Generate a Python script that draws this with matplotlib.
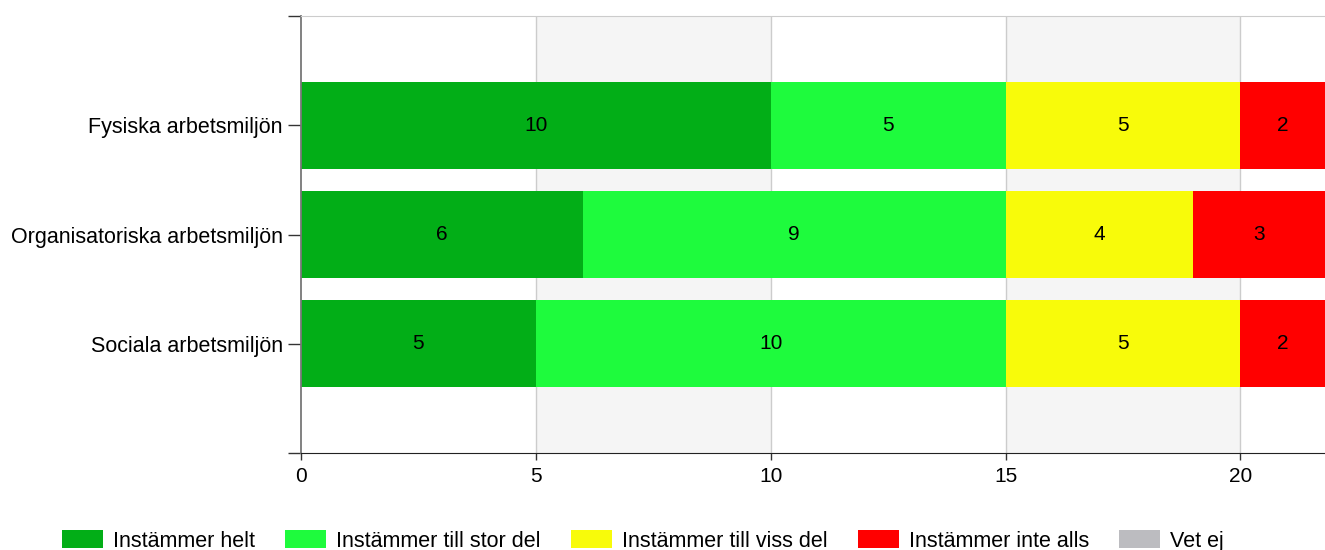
import numpy as np
import matplotlib.pyplot as plt
from matplotlib.patches import Patch

plt.rcParams["font.family"] = ["Liberation Sans", "DejaVu Sans"]

# Survey answers per area
categories = ["Fysiska arbetsmiljön", "Organisatoriska arbetsmiljön", "Sociala arbetsmiljön"]
answers = ["Instämmer helt", "Instämmer till stor del", "Instämmer till viss del",
           "Instämmer inte alls", "Vet ej"]
helt = [10, 6, 5]
stor_del = [5, 9, 10]
viss_del = [5, 4, 5]
inte_alls = [2, 3, 2]
vet_ej = [0, 0, 0]
colors = ["#02ae17", "#1efb3d", "#f8fb0a", "#ff0000", "#bcbcc0"]

series = [helt, stor_del, viss_del, inte_alls, vet_ej]
xmax = 21.8

fig = plt.figure(figsize=(13.25, 5.5), dpi=100)
ax = fig.add_axes([301 / 1325, 97 / 550, 1024 / 1325, 437 / 550])

# alternating background bands and grid
for lo, hi in [(5, 10), (15, 20)]:
    ax.axvspan(lo, hi, color="#f5f5f5", zorder=0, lw=0)
for x in [5, 10, 15, 20]:
    ax.axvline(x, color="#cccccc", lw=1, zorder=0.5)

y = np.arange(len(categories))
left = np.zeros(len(categories))
for vals, col in zip(series, colors):
    vals = np.array(vals, dtype=float)
    ax.barh(y, vals, left=left, height=0.8, color=col, zorder=2)
    for yi, l, v in zip(y, left, vals):
        if v > 0:
            cx = (l + min(l + v, xmax)) / 2
            ax.text(cx, yi, f"{v:g}", ha="center", va="center", fontsize=15, zorder=3)
    left += vals

ax.set_xlim(0, xmax)
ax.set_ylim(3, -1)
ax.set_xticks([0, 5, 10, 15, 20])
ax.set_yticks([-1, 0, 1, 2, 3])
ax.set_yticklabels([""] + categories + [""])
ax.tick_params(axis="y", length=9.5, width=1, color="#333333", labelsize=15.5, pad=3.5)
ax.tick_params(axis="x", length=5, width=1, color="#333333", labelsize=15, pad=5)

ax.spines["right"].set_visible(False)
ax.spines["top"].set_color("#cccccc")
ax.spines["left"].set_color("#777777")
ax.spines["left"].set_linewidth(1.3)
ax.spines["bottom"].set_color("#222222")

handles = [Patch(facecolor=c, edgecolor="none") for c in colors]
fig.legend(handles, answers, loc="center left", bbox_to_anchor=(62 / 1325, 1 - 541 / 550),
           ncol=5, frameon=False, fontsize=15.5, borderpad=0, borderaxespad=0,
           handlelength=1.9, handleheight=0.85, handletextpad=0.47, columnspacing=1.4)

fig.savefig("out.png", dpi=100)
